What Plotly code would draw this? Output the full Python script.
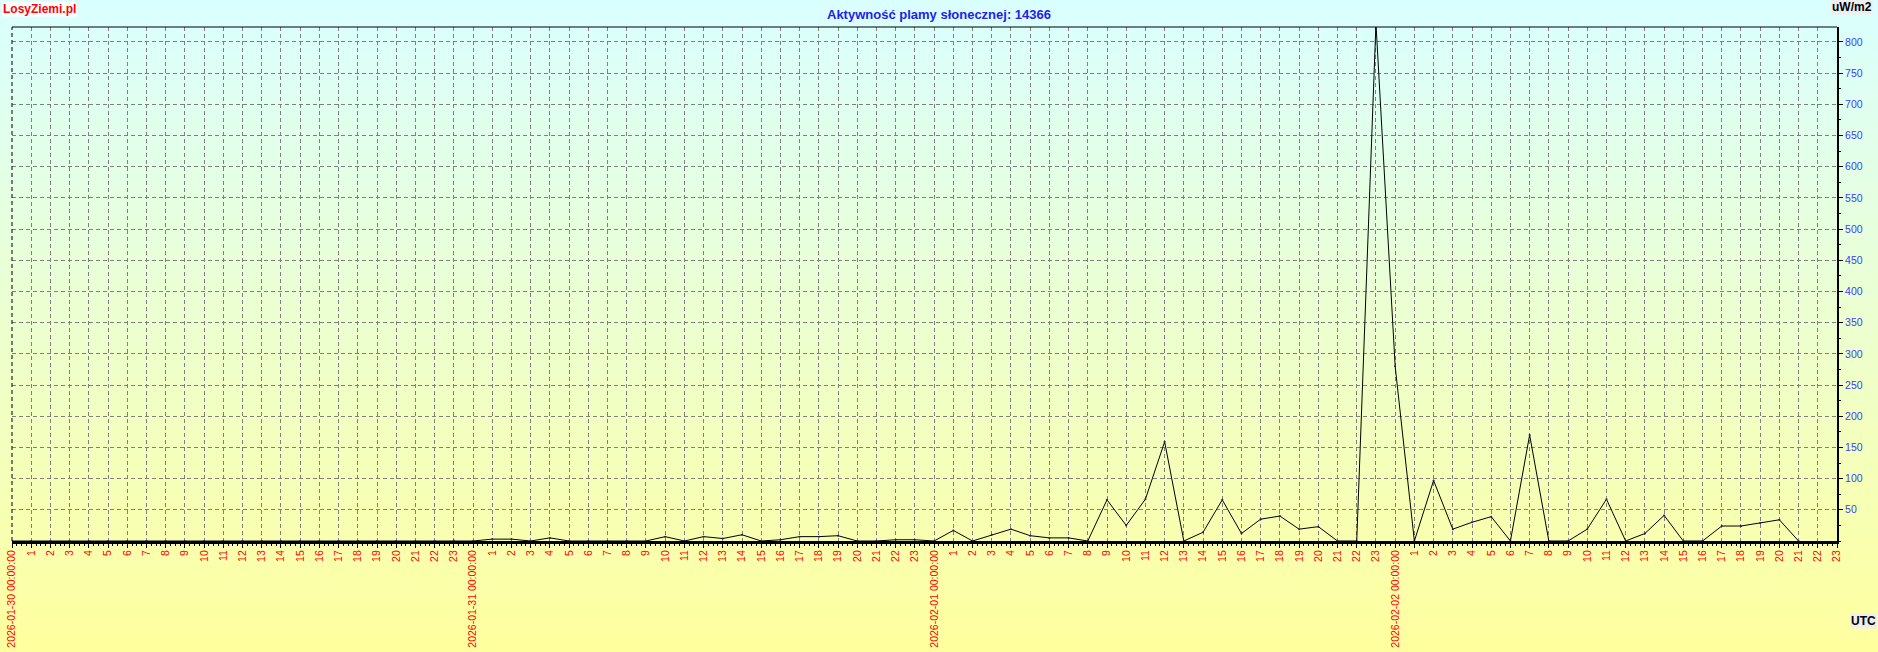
import plotly.graph_objects as go
import pandas as pd

# ---------------- data ----------------
start_time = "2026-01-30 00:00"
end_time = "2026-02-02 23:00"
# hourly values (uW/m2), hour 0 = 2026-01-30 00:00
values = [
    0, 0, 0, 0, 0, 0, 0, 0, 0, 0, 0, 0, 0, 0, 0, 0, 0, 0, 0, 0, 0, 0, 0, 1,      # 01-30
    0, 3, 3, 0, 5, 0, 0, 0, 0, 0, 7, 0, 7, 4, 10, 0, 2, 7, 7, 8.5, 0, 0, 2, 2,   # 01-31
    0, 17, 0, 10, 19, 8.5, 5, 5, 0, 66, 25, 67, 159, 0, 14, 66, 12, 35, 40, 19, 23, 0, 0, 830,  # 02-01
    280, 0, 97, 19, 30, 39, 0, 170, 0, 0, 19, 67, 0, 12, 41, 0, 0, 24, 24, 29, 34, 0,  # 02-02
]
times = pd.date_range(start_time, periods=len(values), freq="h")
tick_times = pd.date_range(start_time, end_time, freq="h")
tick_labels = [t.strftime("%Y-%m-%d %H:%M:%S") if t.hour == 0 else str(t.hour) for t in tick_times]
y_ticks = list(range(50, 801, 50))

title_text = "Aktywność plamy słonecznej: 14366"
W, H = 1878, 652
ml, mr, mt, mb = 12, 41, 27, 111
pw, ph = W - ml - mr, H - mt - mb

fig = go.Figure()
fig.add_trace(go.Scatter(
    x=times, y=values, mode="lines+markers",
    line=dict(color="black", width=1),
    marker=dict(size=2, color="#3a0a8a"),
    hoverinfo="skip", showlegend=False,
))

# gradient background bands (light cyan -> yellow)
top_c = (217, 255, 255)
bot_c = (255, 255, 158)
shapes = []
step = 4
for p in range(0, H + step, step):
    f = min(1.0, (p + step / 2) / H)
    c = tuple(round(top_c[i] + (bot_c[i] - top_c[i]) * f) for i in range(3))
    y0 = (H - mb - p) / ph
    y1 = (H - mb - (p + step + 1)) / ph
    shapes.append(dict(type="rect", xref="paper", yref="paper",
                       x0=-ml / pw - 0.01, x1=1 + mr / pw + 0.01, y0=y1, y1=y0,
                       fillcolor="rgb(%d,%d,%d)" % c, line=dict(width=0), layer="below"))
# top and left borders
shapes.append(dict(type="line", xref="paper", yref="paper", x0=0, x1=1, y0=1, y1=1,
                   line=dict(color="black", width=1)))
shapes.append(dict(type="line", xref="paper", yref="paper", x0=0, x1=0, y0=0, y1=1,
                   line=dict(color="black", width=1, dash="4px,3px")))

font_main = "Liberation Sans, Arial, sans-serif"

fig.update_layout(
    width=W, height=H,
    margin=dict(l=ml, r=mr, t=mt, b=mb, autoexpand=False),
    paper_bgcolor="rgb(255,255,158)",
    plot_bgcolor="rgba(0,0,0,0)",
    shapes=shapes,
    title=dict(text="<b>%s</b>" % title_text, xref="container", x=0.5, xanchor="center",
               y=1 - 14 / H, yanchor="middle",
               font=dict(family=font_main, size=13, color="#2222ee")),
    xaxis=dict(
        range=[times[0], tick_times[-1]],
        tickmode="array", tickvals=tick_times, ticktext=tick_labels,
        tickangle=-90, tickfont=dict(family=font_main, size=10.5, color="#ff0000"),
        ticklabelstandoff=-2,
        ticks="outside", ticklen=4, tickcolor="black", tickwidth=1,
        minor=dict(dtick=15 * 60 * 1000, ticks="outside", ticklen=2, tickcolor="black", showgrid=False),
        showgrid=True, gridcolor="#808080", gridwidth=1, griddash="4px,3px",
        showline=True, linecolor="black", linewidth=3,
        zeroline=False, fixedrange=True, automargin=False,
    ),
    yaxis=dict(
        range=[0, 824], side="right",
        tickmode="array", tickvals=y_ticks, ticktext=[str(v) for v in y_ticks],
        tickfont=dict(family=font_main, size=10.5, color="#3c3cff"),
        ticks="outside", ticklen=4, tickcolor="black", tickwidth=1,
        minor=dict(dtick=25, ticks="outside", ticklen=2, tickcolor="black", showgrid=False),
        showgrid=True, gridcolor="#808080", gridwidth=1, griddash="4px,3px",
        showline=True, linecolor="black", linewidth=2,
        zeroline=False, fixedrange=True, automargin=False,
    ),
    annotations=[
        dict(text="<b>LosyZiemi.pl</b>", xref="paper", yref="paper",
             x=(2 - ml) / pw, y=(H - mb - 1) / ph, xanchor="left", yanchor="top",
             showarrow=False, bgcolor="white", borderpad=0,
             font=dict(family=font_main, size=12, color="#ff0000")),
        dict(text="<b>uW/m2</b>", xref="paper", yref="paper",
             x=(1873 - ml) / pw, y=(H - mb + 1) / ph, xanchor="right", yanchor="top",
             showarrow=False, bgcolor="#eeeeee", borderpad=0,
             font=dict(family=font_main, size=12, color="black")),
        dict(text="<b>UTC</b>", xref="paper", yref="paper",
             x=(1877 - ml) / pw, y=(H - mb - 621) / ph, xanchor="right", yanchor="middle",
             showarrow=False, bgcolor="#eeeeee", borderpad=0,
             font=dict(family=font_main, size=12, color="black")),
    ],
)

fig.write_html(
    "out.html",
    config={"displayModeBar": False},
    post_script=("document.body.style.margin='0px';document.body.style.overflow='hidden';"
                 "document.body.style.background='rgb(255,255,158)';"),
)
